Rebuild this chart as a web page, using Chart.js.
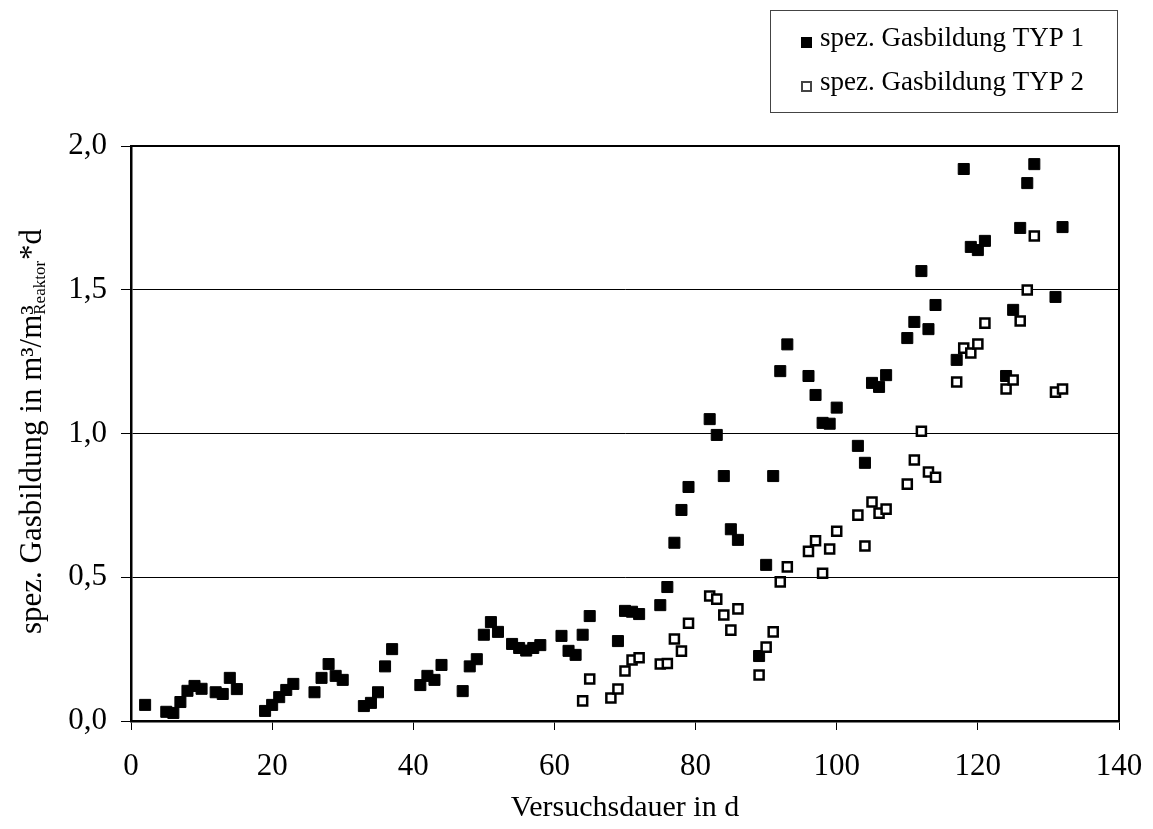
<!DOCTYPE html>
<html>
<head>
<meta charset="utf-8">
<script src="https://cdn.jsdelivr.net/npm/chart.js@4.4.1/dist/chart.umd.min.js"></script>
<style>
  body { margin: 0; background: #fff; }
  canvas { display: block; }
</style>
</head>
<body>
<canvas id="chart" width="1153" height="829"></canvas>
<script>
// Versuchsdauer in d / spez. Gasbildung
const days1 = [2, 5, 6, 7, 8, 9, 10, 12, 13, 14, 15, 19, 20, 21, 22, 23, 26, 27, 28, 29, 30,
  33, 34, 35, 36, 37, 41, 42, 43, 44, 47, 48, 49, 50, 51, 52, 54, 55, 56, 57, 58,
  61, 62, 63, 64, 65, 69, 70, 71, 72, 75, 76, 77, 78, 79, 82, 83, 84, 85, 86,
  89, 90, 91, 92, 93, 96, 97, 98, 99, 100, 103, 104, 105, 106, 107,
  110, 111, 112, 113, 114, 117, 118, 119, 120, 121, 124, 125, 126, 127, 128, 131, 132];
const typ1 = [0.056, 0.032, 0.028, 0.066, 0.105, 0.122, 0.112, 0.100, 0.094, 0.150, 0.111, 0.035, 0.056, 0.083, 0.108, 0.129, 0.100, 0.150, 0.198, 0.157, 0.143,
  0.052, 0.063, 0.100, 0.190, 0.250, 0.125, 0.157, 0.143, 0.195, 0.104, 0.190, 0.215, 0.300, 0.344, 0.310, 0.268, 0.254, 0.245, 0.254, 0.264,
  0.296, 0.244, 0.230, 0.300, 0.365, 0.278, 0.383, 0.380, 0.372, 0.403, 0.466, 0.620, 0.734, 0.814, 1.050, 0.995, 0.852, 0.667, 0.630,
  0.226, 0.543, 0.852, 1.217, 1.310, 1.200, 1.134, 1.037, 1.034, 1.090, 0.957, 0.898, 1.176, 1.162, 1.203,
  1.332, 1.388, 1.565, 1.363, 1.447, 1.256, 1.920, 1.649, 1.638, 1.670, 1.200, 1.430, 1.715, 1.871, 1.937, 1.475, 1.718];

const days2 = [64, 65, 68, 69, 70, 71, 72, 75, 76, 77, 78, 79, 82, 83, 84, 85, 86,
  89, 90, 91, 92, 93, 96, 97, 98, 99, 100, 103, 104, 105, 106, 107,
  110, 111, 112, 113, 114, 117, 118, 119, 120, 121, 124, 125, 126, 127, 128, 131, 132];
const typ2 = [0.070, 0.146, 0.080, 0.111, 0.174, 0.212, 0.220, 0.198, 0.200, 0.285, 0.243, 0.340, 0.435, 0.424, 0.369, 0.316, 0.390,
  0.160, 0.257, 0.310, 0.484, 0.536, 0.590, 0.627, 0.514, 0.598, 0.660, 0.716, 0.609, 0.762, 0.723, 0.737,
  0.824, 0.908, 1.008, 0.866, 0.848, 1.179, 1.297, 1.280, 1.311, 1.384, 1.155, 1.186, 1.391, 1.499, 1.687, 1.144, 1.155];

const labels = ['spez. Gasbildung TYP 1', 'spez. Gasbildung TYP 2'];
const xTitle = 'Versuchsdauer in d';
const yTitle = ['spez. Gasbildung in m\u00b3/m\u00b3', 'Reaktor', '*d'];

const serif = "'Liberation Serif', 'Times New Roman', serif";
Chart.defaults.font.family = serif;
Chart.defaults.color = '#000';

const toPts = (xs, ys) => xs.map((x, i) => ({x: x, y: ys[i]}));

// rahmen oben/rechts + legende + y-titel
const extras = {
  id: 'extras',
  afterDraw(chart) {
    const ctx = chart.ctx;
    const a = chart.chartArea;
    ctx.save();
    ctx.strokeStyle = '#000';
    ctx.lineWidth = 2;
    ctx.beginPath();
    ctx.moveTo(a.left, a.top);
    ctx.lineTo(a.right, a.top);
    ctx.lineTo(a.right, a.bottom);
    ctx.stroke();

    // legende
    ctx.lineWidth = 1;
    ctx.strokeStyle = '#444';
    ctx.strokeRect(770.5, 10.5, 347, 102);
    ctx.font = '27px ' + serif;
    ctx.fillStyle = '#000';
    ctx.textBaseline = 'alphabetic';
    ctx.fillText(labels[0], 820, 46);
    ctx.fillText(labels[1], 820, 90);
    ctx.fillRect(801, 37, 11, 11);
    ctx.lineWidth = 2;
    ctx.strokeRect(802, 82, 9, 9);

    // y-titel mit tiefgestelltem "Reaktor"
    ctx.translate(41, 634);
    ctx.rotate(-Math.PI / 2);
    ctx.font = '31px ' + serif;
    ctx.fillText(yTitle[0], 0, 0);
    let w = ctx.measureText(yTitle[0]).width - ctx.measureText('\u00b3').width;
    ctx.font = '17px ' + serif;
    ctx.fillText(yTitle[1], w, 4);
    w += ctx.measureText(yTitle[1]).width + 1;
    ctx.font = '31px ' + serif;
    ctx.fillText(yTitle[2], w, 0);
    ctx.restore();
  }
};

new Chart(document.getElementById('chart'), {
  type: 'scatter',
  data: {
    datasets: [
      {
        label: labels[1],
        data: toPts(days2, typ2),
        pointStyle: 'rect',
        pointRadius: 6.4,
        borderWidth: 2.5,
        borderColor: '#000',
        backgroundColor: '#fff',
        order: 0
      },
      {
        label: labels[0],
        data: toPts(days1, typ1),
        pointStyle: 'rect',
        pointRadius: 7.8,
        borderWidth: 1,
        borderColor: '#000',
        backgroundColor: '#000',
        order: 1
      }
    ]
  },
  options: {
    responsive: false,
    devicePixelRatio: 1,
    animation: false,
    events: [],
    layout: { padding: { top: 146, right: 34, bottom: 3, left: 0 } },
    plugins: { legend: { display: false }, tooltip: { enabled: false } },
    scales: {
      x: {
        type: 'linear',
        min: 0,
        max: 140,
        ticks: { stepSize: 20, font: { size: 31 }, padding: 18, maxRotation: 0 },
        grid: { drawOnChartArea: false, color: '#000', tickLength: 9 },
        border: { display: true, color: '#000', width: 2.5 },
        title: { display: true, text: xTitle, font: { size: 30 }, padding: { top: 0, bottom: 0 } },
        afterFit: (s) => { s.height = 105; s.paddingLeft = 0; s.paddingRight = 0; }
      },
      y: {
        min: 0,
        max: 2,
        ticks: {
          stepSize: 0.5,
          font: { size: 31 },
          padding: 14,
          callback: (v) => v.toFixed(1).replace('.', ',')
        },
        grid: { color: '#000', lineWidth: 1, tickLength: 10 },
        border: { display: true, color: '#000', width: 2.5 },
        afterFit: (s) => { s.width = 131; s.paddingTop = 0; s.paddingBottom = 0; }
      }
    }
  },
  plugins: [extras]
});
</script>
</body>
</html>
